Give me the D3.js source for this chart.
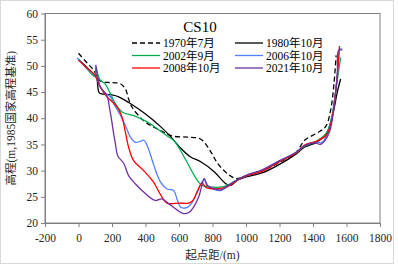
<!DOCTYPE html>
<html>
<head>
<meta charset="utf-8">
<script src="https://cdn.jsdelivr.net/npm/d3@7"></script>
<style>
  body { margin: 0; background: #fff; }
  text { font-family: "Liberation Serif", "Noto Sans CJK SC", serif; }
</style>
</head>
<body>
<script>
// series names and colours
var seriesNames = ["1970年7月", "1980年10月", "2002年9月", "2006年10月", "2008年10月", "2021年10月"];
var seriesColors = ["#000000", "#000000", "#00b050", "#4f81ff", "#ff0000", "#7030a0"];

// [起点距, 高程] pairs
var s1970 = [[0,52.4],[50,50.6],[90,49.2],[130,47.1],[200,46.8],[250,46.6],[280,45.6],[300,43.6],[320,42.1],[390,39.5],[450,38.3],[510,37.3],[560,36.6],[650,36.4],[730,36.0],[790,33.6],[830,31.4],[890,29.4],[940,28.5],[1000,29.0],[1100,30.0],[1200,31.6],[1300,33.5],[1350,35.8],[1420,37.1],[1475,38.4],[1505,41.5],[1525,46.5],[1538,52.0]];
var s1980 = [[0,51.2],[50,49.7],[100,48.0],[110,47.5],[117,45.6],[125,44.8],[190,44.5],[240,44.1],[300,43.0],[400,40.8],[490,38.4],[550,36.5],[610,34.3],[670,32.6],[730,31.7],[810,29.8],[880,27.5],[910,27.2],[950,28.2],[1000,28.8],[1100,29.6],[1200,31.2],[1300,33.2],[1350,34.5],[1420,35.4],[1480,37.0],[1520,41.0],[1545,45.0],[1565,47.5]];
var s2002 = [[0,51.2],[50,49.5],[95,48.0],[105,49.8],[115,48.4],[130,47.3],[160,46.5],[190,44.7],[220,42.8],[260,41.2],[330,40.5],[410,39.3],[470,38.0],[530,36.6],[570,35.7],[610,33.8],[650,31.5],[700,28.6],[735,27.2],[780,26.9],[860,26.9],[900,27.4],[950,28.3],[1000,29.0],[1100,30.1],[1200,31.8],[1300,33.4],[1350,34.7],[1420,35.6],[1480,37.2],[1510,40.0],[1535,45.0],[1555,49.5],[1565,51.6]];
var s2006 = [[-8,51.5],[50,49.5],[100,48.0],[130,46.0],[160,44.8],[190,44.1],[220,42.2],[250,40.6],[280,38.6],[310,36.4],[340,35.4],[370,35.6],[390,35.8],[410,34.8],[450,31.0],[490,27.8],[528,26.5],[568,26.2],[590,24.4],[610,23.0],[650,23.0],[680,24.0],[715,26.5],[750,28.3],[777,26.9],[810,26.4],[847,26.2],[887,26.9],[926,27.8],[1000,29.0],[1100,30.1],[1200,31.8],[1300,33.5],[1350,34.8],[1420,35.5],[1450,35.3],[1480,36.5],[1510,39.5],[1535,45.0],[1552,50.5],[1560,53.2],[1575,53.2]];
var s2008 = [[0,51.1],[50,49.6],[100,48.2],[130,46.0],[170,44.1],[229,42.2],[259,40.3],[279,37.5],[299,34.5],[329,31.9],[389,30.0],[448,27.8],[488,25.5],[528,23.8],[600,23.8],[657,23.8],[680,24.2],[710,26.0],[737,27.6],[767,26.7],[866,26.7],[906,27.2],[950,28.2],[1000,29.0],[1100,29.9],[1200,31.7],[1300,33.4],[1350,34.9],[1420,35.6],[1480,36.8],[1510,39.5],[1535,45.0],[1550,50.0],[1558,53.8]];
var s2021 = [[103,50.2],[110,48.6],[130,46.0],[160,44.8],[175,43.8],[185,42.0],[197,39.8],[210,37.0],[220,35.2],[235,32.8],[270,31.4],[300,29.0],[339,27.5],[389,25.9],[458,24.3],[498,24.6],[538,23.7],[588,22.5],[628,21.8],[658,22.0],[688,23.1],[718,25.0],[751,28.5],[767,27.2],[807,26.6],[847,26.3],[896,27.2],[946,28.2],[1000,29.1],[1100,30.2],[1200,31.9],[1300,33.5],[1350,34.8],[1410,35.3],[1445,35.0],[1470,35.7],[1500,37.5],[1525,42.0],[1545,48.5],[1553,53.0],[1575,53.0]];
var allSeries = [s1970, s1980, s2002, s2006, s2008, s2021];

var xTicks = [-200, 0, 200, 400, 600, 800, 1000, 1200, 1400, 1600, 1800];
var yTicks = [20, 25, 30, 35, 40, 45, 50, 55, 60];

var width = 398, height = 264;
var margin = { left: 45, right: 18, top: 13.5, bottom: 41 };

var svg = d3.select("body").append("svg")
    .attr("width", width)
    .attr("height", height);

// outer chart border
svg.append("rect")
    .attr("x", 0.5).attr("y", 0.5)
    .attr("width", 393).attr("height", 263)
    .attr("fill", "none").attr("stroke", "#d9d9d9");

var xScale = d3.scaleLinear()
    .domain([-200, 1800])
    .range([margin.left, width - margin.right]);

var yScale = d3.scaleLinear()
    .domain([20, 60])
    .range([height - margin.bottom, margin.top]);

// axes (plain ascii labels, no thousands comma)
var plain = function (d) { return String(d); };
var xAxis = d3.axisBottom(xScale).tickValues(xTicks).tickFormat(plain).tickSize(4).tickSizeOuter(0);
var yAxis = d3.axisLeft(yScale).tickValues(yTicks).tickFormat(plain).tickSize(4).tickSizeOuter(0);

var xg = svg.append("g")
    .attr("transform", "translate(0," + yScale(20) + ")")
    .call(xAxis);
var yg = svg.append("g")
    .attr("transform", "translate(" + xScale(-200) + ",0)")
    .call(yAxis);

[xg, yg].forEach(function (g) {
    g.selectAll("path, line").attr("stroke", "#808080");
    g.selectAll("text")
        .attr("fill", "#262626")
        .style("font-size", "11.5px")
        .style("font-family", "'Liberation Serif', serif");
});
xg.selectAll("text").attr("dy", "1.05em");
yg.selectAll("text").attr("x", -7);

// plot box
svg.append("rect")
    .attr("x", xScale(-200)).attr("y", yScale(60))
    .attr("width", xScale(1800) - xScale(-200))
    .attr("height", yScale(20) - yScale(60))
    .attr("fill", "none").attr("stroke", "#808080");

// lines
var lineCurve = d3.line()
    .x(function (d) { return xScale(d[0]); })
    .y(function (d) { return yScale(d[1]); })
    .curve(d3.curveCatmullRom.alpha(0.5));

allSeries.forEach(function (s, i) {
    svg.append("path")
        .datum(s)
        .attr("d", lineCurve)
        .attr("fill", "none")
        .attr("stroke", seriesColors[i])
        .attr("stroke-width", 1.3)
        .attr("stroke-dasharray", i == 0 ? "5,3" : null);
});

// title
svg.append("text")
    .attr("x", 200).attr("y", 32)
    .attr("text-anchor", "middle")
    .style("font-size", "15px")
    .attr("fill", "#000")
    .text("CS10");

// legend
var legend = svg.append("g");
seriesNames.forEach(function (name, i) {
    var col = i % 2, row = Math.floor(i / 2);
    var lx = col == 0 ? 132 : 235;
    var ly = 43 + row * 12.5;
    legend.append("line")
        .attr("x1", lx).attr("x2", lx + 28)
        .attr("y1", ly).attr("y2", ly)
        .attr("stroke", seriesColors[i])
        .attr("stroke-width", 1.3)
        .attr("stroke-dasharray", i == 0 ? "5,3" : null);
    legend.append("text")
        .attr("x", lx + 31).attr("y", ly + 4)
        .style("font-size", "11.5px")
        .attr("fill", "#000")
        .text(name);
});

// axis titles
svg.append("text")
    .attr("x", (xScale(-200) + xScale(1800)) / 2).attr("y", 259)
    .attr("text-anchor", "middle")
    .style("font-size", "11.5px")
    .attr("fill", "#262626")
    .text("起点距/(m)");

svg.append("text")
    .attr("transform", "translate(15," + (yScale(40)) + ") rotate(-90)")
    .attr("text-anchor", "middle")
    .style("font-size", "11.5px")
    .attr("fill", "#262626")
    .text("高程(m,1985国家高程基准)");
</script>
</body>
</html>
